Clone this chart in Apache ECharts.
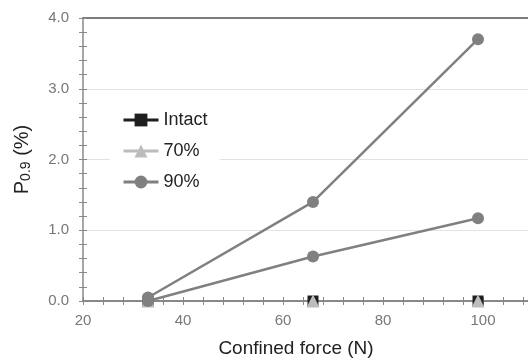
<!DOCTYPE html>
<html>
<head>
<meta charset="utf-8">
<script src="https://cdn.jsdelivr.net/npm/echarts@6/dist/echarts.min.js"></script>
<style>
  html, body { margin: 0; padding: 0; background: #fff; }
  #main { width: 528px; height: 359px; }
</style>
</head>
<body>
<div id="main"></div>
<script>
// confined force (N) at which each specimen group was tested
var forces = [33, 66, 99];
// P0.9 (%) readings per group
var intact = [0, 0, 0];
var p70 = [0, 0, 0];
var p90a = [0.05, 1.4, 3.7];
var p90b = [0, 0.63, 1.17];

var xTicks = [20, 40, 60, 80, 100];
var yTicks = [0, 1, 2, 3, 4];

function pairs(vals) {
    return forces.map(function (f, i) { return [f, vals[i]]; });
}

var font = 'Liberation Sans, Arial, sans-serif';
var chart = echarts.init(document.getElementById('main'));

var option = {
    animation: false,
    textStyle: { fontFamily: font },
    grid: { left: 83, right: -5, top: 18, bottom: 58, containLabel: false, outerBoundsMode: 'none' },
    legend: {
        orient: 'vertical',
        left: 110,
        top: 99,
        padding: 12,
        backgroundColor: '#fff',
        itemWidth: 35,
        itemHeight: 16,
        itemGap: 13,
        data: ['Intact', '70%', '90%'],
        lineStyle: { opacity: 1, width: 3 },
        textStyle: { fontSize: 18, color: '#222', fontFamily: font }
    },
    xAxis: [
        {
            type: 'value', min: 20, max: 110, interval: 20,
            name: 'Confined force (N)', nameLocation: 'middle', nameGap: 38,
            nameTextStyle: { fontSize: 19, color: '#222', padding: [0, 24, 0, 0] },
            axisLine: { lineStyle: { color: '#888', width: 2 } },
            axisTick: { length: 4, lineStyle: { color: '#888' } },
            minorTick: { show: true, splitNumber: 5, length: 4, lineStyle: { color: '#888' } },
            axisLabel: { fontSize: 15, color: '#777', margin: 12, showMaxLabel: false,
                formatter: function (v) { return xTicks.indexOf(v) >= 0 ? String(v) : ''; } },
            splitLine: { show: false }
        },
        {
            type: 'value', min: 20, max: 110, interval: 20, position: 'bottom',
            axisLine: { show: false },
            axisTick: { inside: true, length: 4, lineStyle: { color: '#888' } },
            minorTick: { show: true, splitNumber: 5, length: 4, lineStyle: { color: '#888' } },
            axisLabel: { show: false },
            splitLine: { show: false }
        },
        {
            type: 'value', min: 20, max: 110, position: 'top',
            axisLine: { lineStyle: { color: '#555', width: 1.5 } },
            axisTick: { show: false },
            axisLabel: { show: false },
            splitLine: { show: false }
        }
    ],
    yAxis: [
        {
            type: 'value', min: 0, max: 4, interval: 1,
            name: '{p|P}{s|0.9}{p| (%)}', nameLocation: 'middle', nameGap: 50,
            nameTextStyle: {
                color: '#222',
                rich: {
                    p: { fontSize: 20, color: '#222', fontFamily: font },
                    s: { fontSize: 14, color: '#222', fontFamily: font, verticalAlign: 'bottom', padding: [8, 0, 0, 0] }
                }
            },
            axisLine: { show: true, lineStyle: { color: '#888', width: 1.5 } },
            axisTick: { show: true, length: 4, lineStyle: { color: '#888' } },
            minorTick: { show: true, splitNumber: 5, length: 4, lineStyle: { color: '#888' } },
            axisLabel: { fontSize: 15, color: '#777', margin: 14,
                formatter: function (v) { return yTicks.indexOf(v) >= 0 ? v.toFixed(1) : ''; } },
            splitLine: { show: true, lineStyle: { color: '#e2e2e2', width: 1 } }
        },
        {
            type: 'value', min: 0, max: 4, interval: 1, position: 'left',
            axisLine: { show: false },
            axisTick: { show: true, inside: true, length: 4, lineStyle: { color: '#888' } },
            minorTick: { show: true, splitNumber: 5, length: 4, lineStyle: { color: '#888' } },
            axisLabel: { show: false },
            splitLine: { show: false }
        }
    ],
    series: [
        {
            name: 'Intact', type: 'line', data: pairs(intact),
            symbol: 'rect', symbolSize: 11,
            itemStyle: { color: '#1e1e1e' },
            lineStyle: { color: '#1e1e1e', width: 2.5, opacity: 0 }
        },
        {
            name: '70%', type: 'line', data: pairs(p70),
            symbol: 'triangle', symbolSize: 13,
            itemStyle: { color: '#bcbcbc' },
            lineStyle: { color: '#bcbcbc', width: 2.5, opacity: 0 }
        },
        {
            name: '90%', type: 'line', data: pairs(p90b),
            symbol: 'circle', symbolSize: 12,
            itemStyle: { color: '#808080' },
            lineStyle: { color: '#808080', width: 2.5 }
        },
        {
            name: '90%', type: 'line', data: pairs(p90a),
            symbol: 'circle', symbolSize: 12,
            itemStyle: { color: '#808080' },
            lineStyle: { color: '#808080', width: 2.5 }
        }
    ]
};

chart.setOption(option);
window.addEventListener('resize', function () {
    chart.resize();
});
</script>
</body>
</html>
